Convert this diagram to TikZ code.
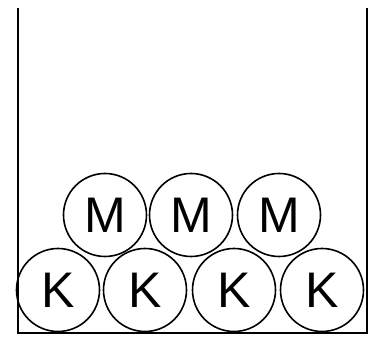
\documentclass[tikz,border=0pt]{standalone}
\usepackage{fontspec}
\setmainfont{Liberation Sans}
\begin{document}
\begin{tikzpicture}[x=1pt,y=1pt,
  ball/.style={circle,draw,line width=1.6pt,minimum size=83pt,inner sep=0pt,font=\fontsize{50}{50}\selectfont},
  wall/.style={line width=2pt}]
\useasboundingbox (0,0) rectangle (370,342);
\coordinate (tl) at (18,334);
\coordinate (bl) at (18,9);
\coordinate (br) at (367,9);
\coordinate (tr) at (367,334);
\draw[wall] (tl) -- (bl) -- (br) -- (tr);
\node[ball] (k1) at (58,52) {K};
\node[ball] (k2) at (145,52) {K};
\node[ball] (k3) at (234,52) {K};
\node[ball] (k4) at (322,52) {K};
\node[ball] (m1) at (105,127) {M};
\node[ball] (m2) at (191,127) {M};
\node[ball] (m3) at (279,127) {M};
\end{tikzpicture}
\end{document}
